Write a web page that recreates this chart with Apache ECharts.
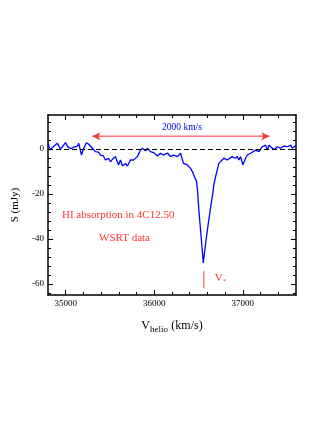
<!DOCTYPE html>
<html>
<head>
<meta charset="utf-8">
<script src="https://cdn.jsdelivr.net/npm/echarts@6/dist/echarts.min.js"></script>
<style>
  html, body { margin: 0; padding: 0; background: #fff; }
  #chart { width: 327px; height: 423px; }
</style>
</head>
<body>
<div id="chart"></div>
<script>
// spectrum: heliocentric velocity (km/s) and flux (mJy)
const velocity = [
  34801, 34827, 34850, 34872, 34906, 34940, 34962, 34997, 35031, 35064,
  35098, 35132, 35147, 35178, 35200, 35234, 35257, 35279, 35302, 35336,
  35370, 35392, 35426, 35449, 35483, 35505, 35539, 35562, 35596, 35618,
  35641, 35675, 35697, 35731, 35765, 35810, 35844, 35867, 35901, 35923,
  35957, 35991, 36036, 36070, 36104, 36149, 36183, 36217, 36262, 36296,
  36330, 36375, 36409, 36432, 36454, 36477, 36488, 36503, 36522, 36541,
  36553, 36567, 36590, 36616, 36643, 36661, 36672, 36692, 36711, 36729,
  36748, 36785, 36824, 36842, 36880, 36910, 36937, 36955, 36974, 37000,
  37031, 37050, 37087, 37106, 37144, 37163, 37182, 37219, 37257, 37276,
  37294, 37333, 37362, 37389, 37426, 37464, 37502, 37540, 37559, 37577,
  37604
]
const flux = [
  2.4, -0.6, 0.6, 0.1, 2.4, -0.1, 0.8, 2.7, 0.5, 0.1,
  0.8, 1.2, 2.4, -2.8, -0.1, 2.7, 2.1, 2.7, 0.2, -1.3,
  -1.5, -2.8, -3.2, -5.0, -4.2, -5.8, -4.2, -3.5, -7.2, -5.0,
  -7.7, -6.5, -7.7, -5.0, -5.0, -3.5, -0.6, 0.2, -0.9, 0.2,
  -1.3, -1.7, -3.2, -2.0, -2.8, -1.9, -3.5, -2.8, -3.5, -2.0,
  -6.5, -7.2, -8.7, -10.3, -12.4, -14.6, -18.3, -27.1, -36.0, -44.8,
  -50.7, -46.2, -38.9, -31.5, -24.2, -19.7, -16.1, -12.4, -9.4, -6.5,
  -5.8, -4.2, -5.0, -4.7, -3.5, -4.2, -3.5, -5.0, -3.5, -7.2,
  -4.2, -2.8, -2.0, -2.8, -0.6, 0.2, -1.3, 0.9, 1.6, -0.6,
  1.6, 0.2, -0.3, 0.9, 0.2, 1.2, 0.9, 1.6, 0.2, -0.6,
  1.6
]

// axis ticks
const xMajor = [35000, 36000, 37000]
const xMinor = [35200, 35400, 35600, 35800, 36200, 36400, 36600, 36800, 37200, 37400]
const yMajor = [-60, -40, -20, 0]
const yMinor = [-64, -56, -52, -48, -44, -36, -32, -28, -24, -16, -12, -8, -4, 4, 8, 12]

// annotations
const widthArrow = [[35300, 5.6], [37300, 5.6]]
const vStar = [[36559, -54.4], [36559, -61.8]]

const serif = "'Liberation Serif', 'DejaVu Serif', serif"
const red = '#ff3333'
const blue = '#0000ff'

let chart = echarts.init(document.getElementById('chart'), null, {renderer: 'canvas'})

function xAx(pos, ticks, len, labels, line) {
  return {
    type: 'value', position: pos, min: 34800, max: 37600,
    axisLine: {show: line, onZero: false, lineStyle: {color: '#000', width: 1.5}},
    axisTick: {show: true, inside: true, length: len, customValues: ticks, lineStyle: {color: '#000', width: 1}},
    axisLabel: labels ? {show: true, customValues: ticks, margin: 4, color: '#000', fontFamily: serif, fontSize: 9, formatter: v => String(v)} : {show: false},
    splitLine: {show: false}
  }
}
function yAx(pos, ticks, len, labels, line) {
  return {
    type: 'value', position: pos, min: -65, max: 15,
    axisLine: {show: line, onZero: false, lineStyle: {color: '#000', width: 1.5}},
    axisTick: {show: true, inside: true, length: len, customValues: ticks, lineStyle: {color: '#000', width: 1}},
    axisLabel: labels ? {show: true, customValues: ticks, margin: 4, color: '#000', fontFamily: serif, fontSize: 9, formatter: v => String(v)} : {show: false},
    splitLine: {show: false}
  }
}

const xBottom = xAx('bottom', xMajor, 5, true, true)
xBottom.name = '{v|V}{s|helio} {u|(km/s)}'
xBottom.nameLocation = 'middle'
xBottom.nameGap = 22
xBottom.nameTextStyle = {
  rich: {
    v: {fontFamily: serif, fontSize: 12, color: '#000'},
    s: {fontFamily: serif, fontSize: 9, color: '#000', verticalAlign: 'bottom', padding: [8, 0, 0, 0]},
    u: {fontFamily: serif, fontSize: 12, color: '#000'}
  }
}
const yLeft = yAx('left', yMajor, 5, true, true)
yLeft.name = 'S (mJy)'
yLeft.nameLocation = 'middle'
yLeft.nameGap = 23
yLeft.nameTextStyle = {fontFamily: serif, fontSize: 11, color: '#000'}

const option = {
  animation: false,
  backgroundColor: '#fff',
  grid: {left: 48, right: 31, top: 115, bottom: 128},
  xAxis: [
    xBottom,
    xAx('bottom', xMinor, 3, false, false),
    xAx('top', xMajor, 5, false, true),
    xAx('top', xMinor, 3, false, false)
  ],
  yAxis: [
    yLeft,
    yAx('left', yMinor, 3, false, false),
    yAx('right', yMajor, 5, false, true),
    yAx('right', yMinor, 3, false, false)
  ],
  series: [
    {
      type: 'line',
      data: velocity.map((v, i) => [v, flux[i]]),
      showSymbol: false,
      lineStyle: {color: blue, width: 1.3},
      z: 3,
      markLine: {
        silent: true,
        symbol: 'none',
        label: {show: false},
        lineStyle: {color: '#000', type: [5, 3], width: 1},
        data: [{yAxis: 0}]
      }
    },
    {
      type: 'line',
      data: widthArrow,
      showSymbol: true,
      symbol: 'none',
      lineStyle: {color: red, width: 1},
      markPoint: {
        silent: true,
        symbol: 'arrow',
        symbolSize: [6, 8],
        itemStyle: {color: red},
        label: {show: false},
        data: [
          {coord: widthArrow[0], symbolRotate: 90, symbolOffset: [0, 0]},
          {coord: widthArrow[1], symbolRotate: -90, symbolOffset: [0, 0]}
        ]
      }
    },
    {
      type: 'line',
      data: vStar,
      showSymbol: false,
      lineStyle: {color: red, width: 1},
      endLabel: {
        show: true,
        formatter: '{a|V}{b|*}',
        offset: [3, -10],
        rich: {
          a: {fontFamily: serif, fontSize: 11, color: red},
          b: {fontFamily: serif, fontSize: 7, color: red, verticalAlign: 'bottom', padding: [6, 0, 0, 0]}
        }
      }
    }
  ],
  graphic: [
    {type: 'text', left: 162, top: 122, style: {text: '2000 km/s', fill: blue, font: '9.5px ' + serif}},
    {type: 'text', left: 62, top: 210, style: {text: 'HI absorption in 4C12.50', fill: red, font: '11px ' + serif}},
    {type: 'text', left: 99, top: 233, style: {text: 'WSRT data', fill: red, font: '11px ' + serif}}
  ]
}

chart.setOption(option)
</script>
</body>
</html>
